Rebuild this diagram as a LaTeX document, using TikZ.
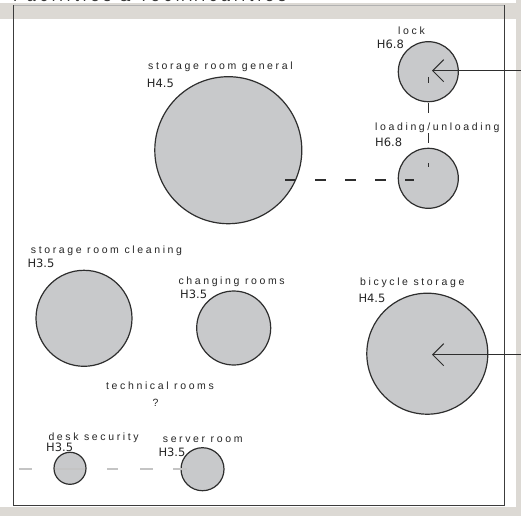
\documentclass[tikz,border=0pt]{standalone}
\usepackage{fontspec}
\usetikzlibrary{arrows.meta}
\newfontfamily\namefont[LetterSpace=25]{Liberation Sans}
\newfontfamily\hfont{DejaVu Sans}
\definecolor{bandgray}{HTML}{DCD9D4}
\definecolor{roomfill}{HTML}{C8C9CB}
\definecolor{framecol}{HTML}{3C3C3C}
\definecolor{linecol}{HTML}{2E2E2E}
\definecolor{dashgray}{HTML}{C4C4C4}
\tikzset{
  room/.style={circle, draw=linecol, line width=1.2pt, fill=roomfill, inner sep=0pt},
  lbl/.style={font=\namefont\fontsize{10.5}{12}\selectfont, text=black!85, inner sep=0pt, anchor=base west},
  hlbl/.style={font=\hfont\fontsize{11.5}{13}\selectfont, text=black!85, inner sep=0pt, anchor=base west},
  arrowline/.style={draw=linecol, line width=1pt, -{Straight Barb[length=11pt,width=22pt,line width=1pt]}},
  darkdash/.style={draw=linecol, line width=1.2pt},
}
\begin{document}
\begin{tikzpicture}[x=1pt,y=-1pt]
\useasboundingbox (0,0) rectangle (521,516);
\fill[white] (0,0) rectangle (521,516);
% title, clipped at the top edge
\begin{scope}
  \clip (0,0) rectangle (521,3.3);
  \node[font=\namefont\fontsize{16}{18}\selectfont, text=black!80, inner sep=0pt, anchor=base west] (title) at (13,2.0) {Facilities \& Technicalities};
\end{scope}
% grey bands
\fill[bandgray] (0,3.3) rectangle (521,19.3);
\fill[bandgray] (516,0) rectangle (521,516);
\fill[bandgray] (0,507) rectangle (521,516);
% frame
\draw[gray!60, line width=0.8pt] (13.3,5.5) -- (504.3,5.5);
\draw[framecol, line width=1pt] (13.3,5.5) -- (13.3,505.7) -- (504.3,505.7) -- (504.3,5.5);

% rooms
\node[room, minimum size=60pt] (lock) at (428.3,71.7) {};
\node[room, minimum size=60pt] (load) at (428.3,178.3) {};
\node[room, minimum size=147pt] (general) at (228.3,150.2) {};
\node[room, minimum size=96pt] (cleaning) at (84,318.3) {};
\node[room, minimum size=74pt] (changing) at (233.7,328) {};
\node[room, minimum size=121pt] (bicycle) at (427.3,353.7) {};
\node[room, minimum size=32pt] (desk) at (70,468.3) {};
\node[room, minimum size=43pt] (server) at (202.5,469.2) {};

% labels
\node[lbl] (lockname) at (398,34.8) {lock};
\node[hlbl] (lockh) at (376.7,49) {H6.8};
\node[lbl] (loadname) at (375,130.7) {loading/unloading};
\node[hlbl] (loadh) at (375,146) {H6.8};
\node[lbl] (genname) at (148,69.3) {storage room general};
\node[hlbl] (genh) at (146.7,87.3) {H4.5};
\node[lbl] (cleanname) at (30.7,253.3) {storage room cleaning};
\node[hlbl] (cleanh) at (27.3,267.3) {H3.5};
\node[lbl] (changename) at (178.3,284) {changing rooms};
\node[hlbl] (changeh) at (180,298.3) {H3.5};
\node[lbl] (technical) at (106,389.3) {technical rooms};
\node[lbl, anchor=base] (techq) at (155.5,406.7) {?};
\node[lbl] (deskname) at (48.3,440) {desk security};
\node[hlbl] (deskh) at (46,451.7) {H3.5};
\node[lbl] (servername) at (162.7,442.7) {server room};
\node[hlbl] (serverh) at (158.3,456) {H3.5};
\node[lbl] (bikename) at (360,285) {bicycle storage};
\node[hlbl] (bikeh) at (358.3,302.7) {H4.5};

% connector end points
\coordinate (lockout) at (521,70.7);
\coordinate (lockin) at (432,70.7);
\coordinate (bikeout) at (521,354.7);
\coordinate (bikein) at (432,354.7);
\coordinate (locktick) at (428.3,77);
\coordinate (loadtick) at (428.3,167);
\coordinate (genpt) at (285,180);
\coordinate (loadpt) at (414,180);
\coordinate (deskpt) at (19,469);
\coordinate (serverpt) at (187,469);

% connectors
\draw[arrowline] (lockout) -- (lockin);
\draw[arrowline] (bikeout) -- (bikein);
\draw[darkdash, dash pattern=on 10pt off 20pt, dash phase=4pt] (locktick) -- (loadtick);
\draw[darkdash, dash pattern=on 11pt off 19pt] (genpt) -- (loadpt);
\draw[dashgray, line width=1.2pt, dash pattern=on 13pt off 23pt on 30pt off 22pt on 11pt off 22pt on 13pt off 20pt on 14pt off 50pt] (deskpt) -- (serverpt);
\end{tikzpicture}
\end{document}
